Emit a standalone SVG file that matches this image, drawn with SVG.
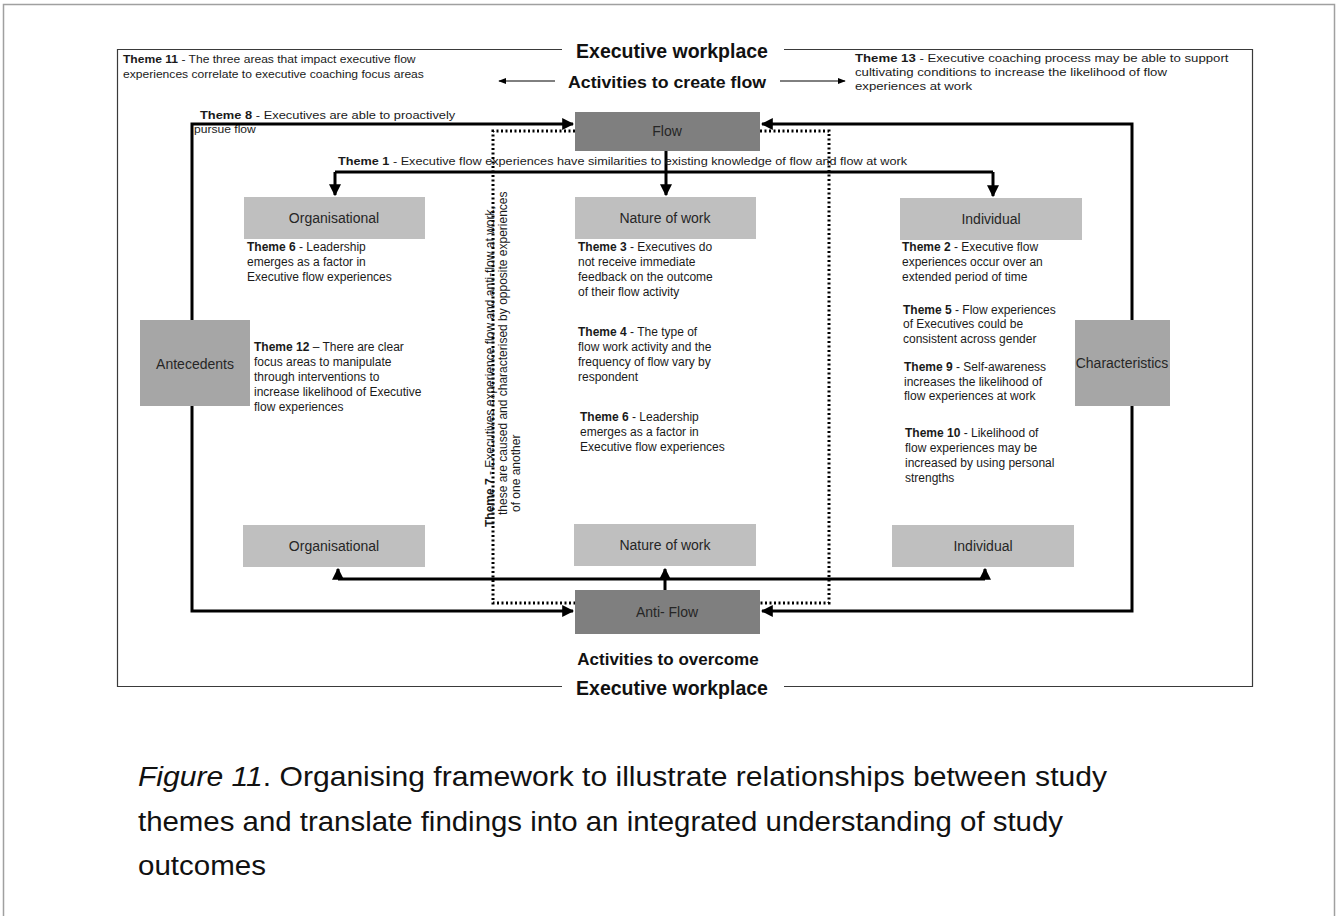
<svg xmlns="http://www.w3.org/2000/svg" width="1338" height="916" viewBox="0 0 1338 916">
  <style>
    .t { font-family: "Liberation Sans", Arial, sans-serif; fill: #1a1a1a; }
    .th { font-size: 12px; }
    .sm { font-size: 11px; }
    .b { font-weight: bold; }
    .hd { font-family: "Liberation Sans", Arial, sans-serif; font-weight: bold; font-size: 17px; fill: #111; text-anchor: middle; }
    .hd-lg { font-size: 19.5px; }
    .lbl { font-family: "Liberation Sans", Arial, sans-serif; font-size: 14px; fill: #262626; text-anchor: middle; }
    .light { fill: #bfbfbf; }
    .mid { fill: #a6a6a6; }
    .dark { fill: #7f7f7f; }
    .thick { fill: none; stroke: #000; stroke-width: 3; }
    .thin { fill: none; stroke: #000; stroke-width: 1; }
    .dot { fill: none; stroke: #000; stroke-width: 3; stroke-dasharray: 2 2.5; }
    .frame { fill: none; stroke: #3a3a3a; stroke-width: 1.2; }
    .cap { font-family: "Liberation Sans", Arial, sans-serif; font-size: 27.5px; fill: #111; }
  </style>
  <defs>
    <marker id="ah" viewBox="0 0 10 10" refX="9" refY="5" markerWidth="4" markerHeight="4" orient="auto" markerUnits="strokeWidth">
      <path d="M0,0 L10,5 L0,10 z" fill="#000"/>
    </marker>
    <marker id="ahs" viewBox="0 0 10 10" refX="9" refY="5" markerWidth="8" markerHeight="8" orient="auto" markerUnits="strokeWidth">
      <path d="M0,1 L10,5 L0,9 z" fill="#000"/>
    </marker>
  </defs>

  <rect width="1338" height="916" fill="#fff"/>
  <!-- page border -->
  <rect x="3.5" y="4.5" width="1331" height="1000" fill="none" stroke="#a0a0a0" stroke-width="1.5"/>

  <!-- workplace frame -->
  <g id="workplace-frame">
    <path class="frame" d="M562,49.5 H117.5 V686.5 H562"/>
    <path class="frame" d="M784,49.5 H1252.5 V686.5 H784"/>
    <text class="hd hd-lg" x="672" y="58">Executive workplace</text>
    <text class="hd hd-lg" x="672" y="695">Executive workplace</text>
  </g>

  <!-- header notes (set slightly wide) -->
  <g id="theme11" transform="matrix(1.1 0 0 1 -12.3 0)">
    <text class="t sm" x="123" y="63"><tspan class="b">Theme 11</tspan> - The three areas that impact executive flow</text>
    <text class="t sm" x="123" y="78">experiences correlate to executive coaching focus areas</text>
  </g>
  <g id="theme13" transform="matrix(1.2 0 0 1 -171 0)">
    <text class="t sm" x="855" y="62"><tspan class="b">Theme 13</tspan> - Executive coaching process may be able to support</text>
    <text class="t sm" x="855" y="76">cultivating conditions to increase the likelihood of flow</text>
    <text class="t sm" x="855" y="90">experiences at work</text>
  </g>
  <g id="activities-create">
    <text class="hd" x="667" y="88" textLength="198" lengthAdjust="spacingAndGlyphs">Activities to create flow</text>
    <path class="thin" d="M555,81 H499" marker-end="url(#ahs)"/>
    <path class="thin" d="M780,81 H845" marker-end="url(#ahs)"/>
  </g>

  <!-- connectors -->
  <g id="connectors">
    <!-- theme 7 dotted enclosure -->
    <path class="dot" d="M575,131 H493 V603 H575 M760,131 H829 V603 H760"/>
    <!-- antecedents to flow / anti-flow -->
    <path class="thick" d="M192,320 V124 H573" marker-end="url(#ah)"/>
    <path class="thick" d="M192,406 V611 H573" marker-end="url(#ah)"/>
    <!-- characteristics to flow / anti-flow -->
    <path class="thick" d="M1132,320 V124 H762" marker-end="url(#ah)"/>
    <path class="thick" d="M1132,406 V611 H762" marker-end="url(#ah)"/>
    <!-- flow branches -->
    <path class="thick" d="M666,150 V172"/>
    <path class="thick" d="M335,172 H993"/>
    <path class="thick" d="M335,172 V195" marker-end="url(#ah)"/>
    <path class="thick" d="M666,172 V195" marker-end="url(#ah)"/>
    <path class="thick" d="M993,172 V196" marker-end="url(#ah)"/>
    <!-- anti-flow branches -->
    <path class="thick" d="M665,590 V569" marker-end="url(#ah)"/>
    <path class="thick" d="M338,579 H985"/>
    <path class="thick" d="M338,579 V569" marker-end="url(#ah)"/>
    <path class="thick" d="M985,579 V569" marker-end="url(#ah)"/>
  </g>

  <g id="theme8">
    <text class="t sm" x="200" y="119" transform="matrix(1.17 0 0 1 -34 0)"><tspan class="b">Theme 8</tspan> -  Executives are able to proactively</text>
    <text class="t sm" x="194" y="133" transform="matrix(1.1 0 0 1 -19.4 0)">pursue flow</text>
  </g>
  <g id="theme1">
    <text class="t sm" x="338" y="165" textLength="569" lengthAdjust="spacingAndGlyphs"><tspan class="b">Theme 1</tspan> - Executive flow experiences have similarities to existing knowledge of flow and flow at work</text>
  </g>

  <!-- central nodes -->
  <g id="flow">
    <rect class="dark" x="575" y="112" width="185" height="39"/>
    <text class="lbl" x="667" y="136">Flow</text>
  </g>
  <g id="anti-flow">
    <rect class="dark" x="575" y="590" width="185" height="44"/>
    <text class="lbl" x="667" y="617">Anti- Flow</text>
    <text class="hd" x="668" y="665">Activities to overcome</text>
  </g>

  <!-- top row -->
  <g id="org-top">
    <rect class="light" x="244" y="197" width="181" height="42"/>
    <text class="lbl" x="334" y="223">Organisational</text>
  </g>
  <g id="work-top">
    <rect class="light" x="575" y="197" width="181" height="42"/>
    <text class="lbl" x="665" y="223">Nature of work</text>
  </g>
  <g id="ind-top">
    <rect class="light" x="900" y="198" width="182" height="42"/>
    <text class="lbl" x="991" y="224">Individual</text>
  </g>

  <!-- bottom row -->
  <g id="org-bottom">
    <rect class="light" x="243" y="525" width="182" height="42"/>
    <text class="lbl" x="334" y="551">Organisational</text>
  </g>
  <g id="work-bottom">
    <rect class="light" x="574" y="524" width="182" height="42"/>
    <text class="lbl" x="665" y="550">Nature of work</text>
  </g>
  <g id="ind-bottom">
    <rect class="light" x="892" y="525" width="182" height="42"/>
    <text class="lbl" x="983" y="551">Individual</text>
  </g>

  <!-- side nodes -->
  <g id="antecedents">
    <rect class="mid" x="140" y="320" width="110" height="86"/>
    <text class="lbl" x="195" y="369" font-size="16.5">Antecedents</text>
  </g>
  <g id="characteristics">
    <rect class="mid" x="1075" y="320" width="95" height="86"/>
    <text class="lbl" x="1122" y="368" font-size="13">Characteristics</text>
  </g>

  <!-- organisational themes -->
  <g id="theme6-org">
    <text class="t th" x="247" y="251"><tspan class="b">Theme 6</tspan> -  Leadership</text>
    <text class="t th" x="247" y="266">emerges as a factor in</text>
    <text class="t th" x="247" y="281">Executive flow experiences</text>
  </g>
  <g id="theme12">
    <text class="t th" x="254" y="351"><tspan class="b">Theme 12</tspan> – There are clear</text>
    <text class="t th" x="254" y="366">focus areas to manipulate</text>
    <text class="t th" x="254" y="381">through  interventions to</text>
    <text class="t th" x="254" y="396">increase likelihood of Executive</text>
    <text class="t th" x="254" y="411">flow experiences</text>
  </g>

  <!-- nature of work themes -->
  <g id="theme3">
    <text class="t th" x="578" y="251"><tspan class="b">Theme 3</tspan> - Executives do</text>
    <text class="t th" x="578" y="266">not receive immediate</text>
    <text class="t th" x="578" y="281">feedback on the outcome</text>
    <text class="t th" x="578" y="296">of their flow activity</text>
  </g>
  <g id="theme4">
    <text class="t th" x="578" y="336"><tspan class="b">Theme 4</tspan>  - The  type of</text>
    <text class="t th" x="578" y="351">flow work activity and the</text>
    <text class="t th" x="578" y="366">frequency of flow vary by</text>
    <text class="t th" x="578" y="381">respondent</text>
  </g>
  <g id="theme6-work">
    <text class="t th" x="580" y="421"><tspan class="b">Theme 6</tspan> -  Leadership</text>
    <text class="t th" x="580" y="436">emerges as a factor in</text>
    <text class="t th" x="580" y="451">Executive flow experiences</text>
  </g>

  <!-- individual themes -->
  <g id="theme2">
    <text class="t th" x="902" y="251"><tspan class="b">Theme 2</tspan> - Executive flow</text>
    <text class="t th" x="902" y="266">experiences occur over an</text>
    <text class="t th" x="902" y="281">extended period of time</text>
  </g>
  <g id="theme5">
    <text class="t th" x="903" y="314"><tspan class="b">Theme 5</tspan> - Flow experiences</text>
    <text class="t th" x="903" y="328">of Executives could be</text>
    <text class="t th" x="903" y="343">consistent across gender</text>
  </g>
  <g id="theme9">
    <text class="t th" x="904" y="371"><tspan class="b">Theme 9</tspan> - Self-awareness</text>
    <text class="t th" x="904" y="386">increases the likelihood of</text>
    <text class="t th" x="904" y="400">flow experiences at work</text>
  </g>
  <g id="theme10">
    <text class="t th" x="905" y="437"><tspan class="b">Theme 10</tspan> - Likelihood of</text>
    <text class="t th" x="905" y="452">flow experiences may be</text>
    <text class="t th" x="905" y="467">increased by using personal</text>
    <text class="t th" x="905" y="482">strengths</text>
  </g>

  <!-- theme 7, vertical -->
  <g id="theme7" class="t th">
    <text transform="translate(494,527) rotate(-90)"><tspan class="b">Theme 7</tspan> - Executives experience flow and anti-flow at work,</text>
    <text transform="translate(507,515) rotate(-90)">these are caused and characterised by opposite experiences</text>
    <text transform="translate(520,512) rotate(-90)">of one another</text>
  </g>

  <!-- caption -->
  <g id="caption">
    <text class="cap" x="138" y="786" textLength="969" lengthAdjust="spacingAndGlyphs"><tspan font-style="italic">Figure 11</tspan>. Organising framework to illustrate relationships between study</text>
    <text class="cap" x="138" y="831" textLength="925" lengthAdjust="spacingAndGlyphs">themes and translate findings into an integrated understanding of study</text>
    <text class="cap" x="138" y="875" textLength="128" lengthAdjust="spacingAndGlyphs">outcomes</text>
  </g>
</svg>
